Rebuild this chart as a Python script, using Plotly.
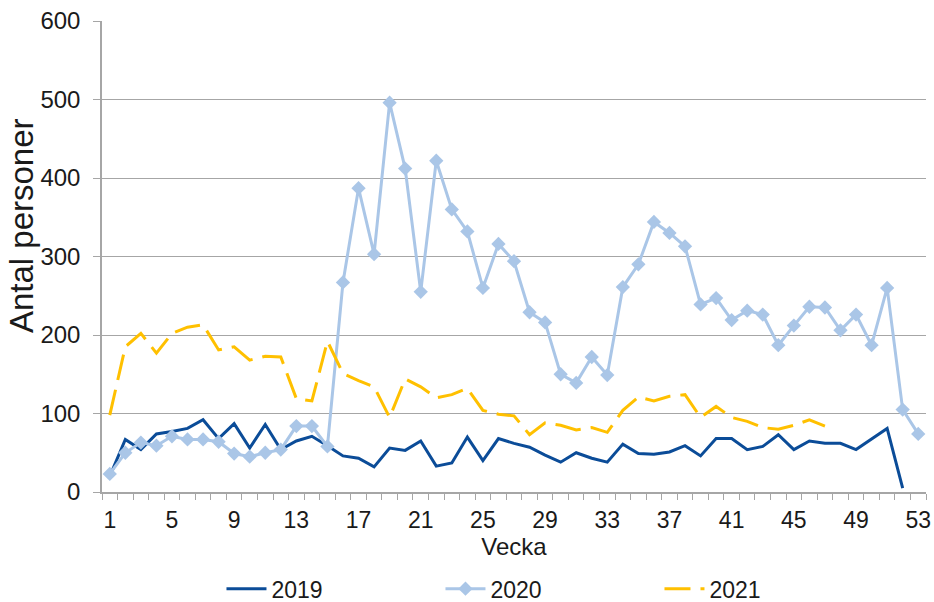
import plotly.graph_objects as go

weeks_2019 = list(range(1, 53))
values_2019 = [20, 67, 54, 74, 77, 81, 92, 68, 87, 56, 86, 54, 65, 71, 59, 46, 43, 32, 56, 53,
               65, 33, 37, 70, 40, 68, 62, 57, 47, 38, 50, 43, 38, 61, 49, 48, 51, 59, 46, 68,
               68, 54, 58, 73, 54, 65, 62, 62, 54, 68, 81, 5]

weeks_2020 = list(range(1, 54))
values_2020 = [23, 50, 63, 59, 71, 67, 67, 64, 49, 45, 50, 54, 84, 84, 58, 267, 387, 303, 496, 412,
               255, 422, 360, 332, 260, 316, 294, 229, 216, 150, 139, 172, 149, 261, 290, 344, 330, 313, 239, 247,
               219, 231, 226, 187, 212, 236, 235, 206, 226, 187, 260, 105, 74]

weeks_2021 = list(range(1, 48))
values_2021 = [98, 185, 202, 177, 202, 210, 213, 181, 185, 168, 173, 172, 119, 116, 192, 151, 142, 134, 95, 144,
               134, 120, 124, 132, 104, 99, 97, 73, 88, 85, 79, 82, 76, 104, 121, 116, 122, 124, 95, 109,
               95, 90, 82, 80, 85, 92, 84]

x_tick_vals = list(range(1, 54, 4))
y_tick_vals = [0, 100, 200, 300, 400, 500, 600]

FONT = "Liberation Sans, Arial, sans-serif"
GRID = "#a6a6a6"

fig = go.Figure()
fig.add_trace(go.Scatter(x=weeks_2019, y=values_2019, name="2019", mode="lines",
                         line=dict(color="#0b4c98", width=3)))
fig.add_trace(go.Scatter(x=weeks_2020, y=values_2020, name="2020", mode="lines+markers",
                         line=dict(color="#aac6e7", width=3),
                         marker=dict(symbol="diamond", size=11, color="#aac6e7")))
fig.add_trace(go.Scatter(x=weeks_2021, y=values_2021, name="2021", mode="lines",
                         line=dict(color="#ffc000", width=3, dash="26px,10px")))

fig.update_layout(
    width=934, height=602,
    margin=dict(l=102, r=8, t=21, b=110),
    paper_bgcolor="white", plot_bgcolor="white",
    font=dict(family=FONT, size=24, color="#1a1a1a"),
    showlegend=True,
    legend=dict(orientation="h", x=0.145, xanchor="left",
                yref="container", y=0.022, yanchor="middle",
                entrywidth=164, entrywidthmode="pixels", itemwidth=40,
                font=dict(size=23, family=FONT), bgcolor="rgba(0,0,0,0)",
                borderwidth=0),
    xaxis=dict(
        range=[0.5, 53.5], tickvals=x_tick_vals, ticks="",
        showgrid=False, zeroline=False, automargin=False,
        showline=True, linecolor=GRID, linewidth=1.5,
        minor=dict(ticks="outside", tick0=0.5, dtick=1, ticklen=6, tickcolor=GRID, showgrid=False),
        title=dict(text="Vecka", font=dict(size=24), standoff=0),
        tickfont=dict(size=23),
        ticklabelstandoff=7,
    ),
    yaxis=dict(
        range=[0, 600], tickvals=y_tick_vals,
        showgrid=True, gridcolor=GRID, gridwidth=1.2,
        zeroline=False, automargin=False,
        showline=True, linecolor=GRID, linewidth=1.5,
        ticks="outside", ticklen=7, tickcolor=GRID,
        tickfont=dict(size=24),
        ticklabelstandoff=8,
    ),
    annotations=[dict(text="Antal personer", textangle=-90, showarrow=False,
                      xref="paper", yref="paper", x=-0.0975, y=0.566,
                      xanchor="center", yanchor="middle",
                      font=dict(size=33, family=FONT, color="#1a1a1a"))],
)

fig.write_html("out.html", config={"displayModeBar": False},
               post_script="document.body.style.margin='0';")
